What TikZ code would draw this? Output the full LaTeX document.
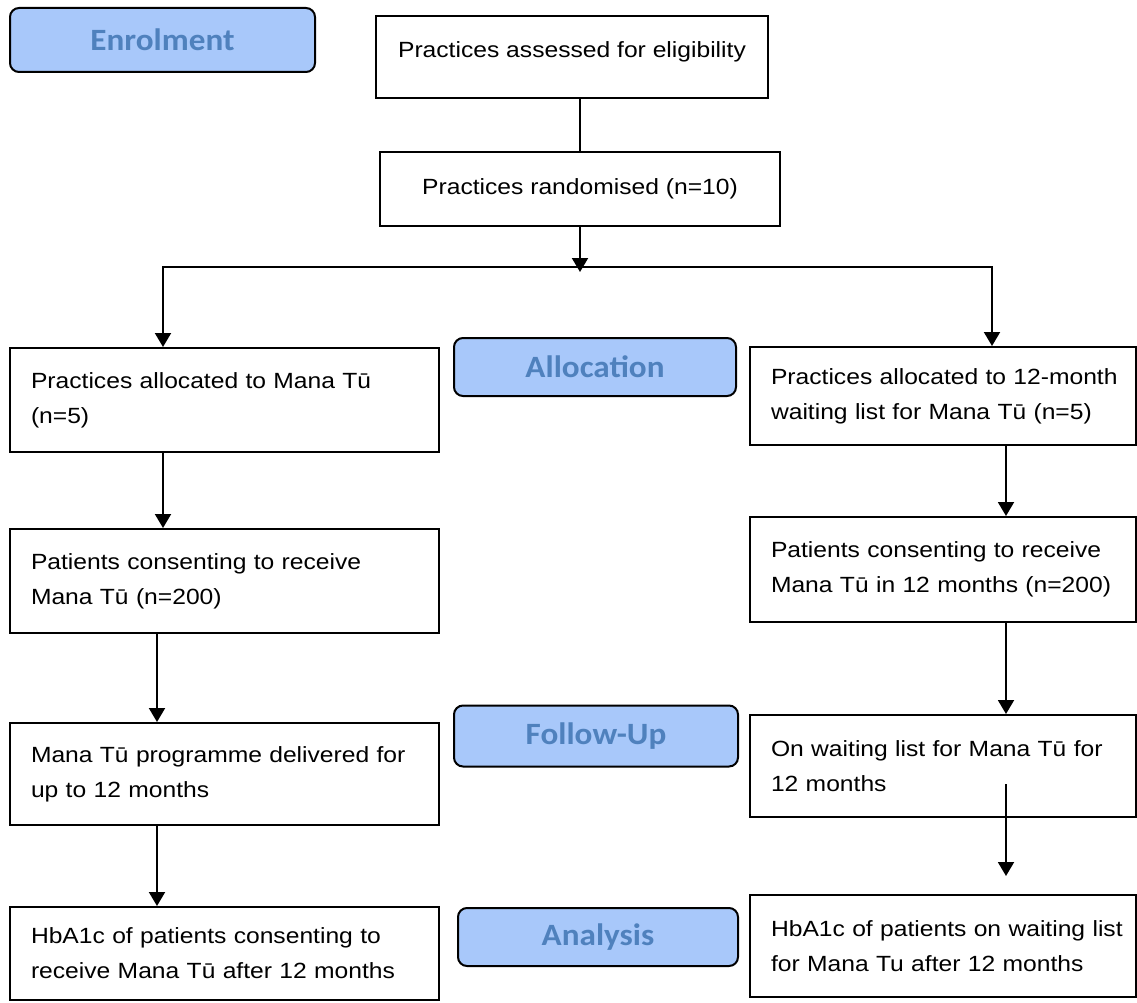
\documentclass[tikz,border=0pt]{standalone}
\usepackage{fontspec}
\usetikzlibrary{arrows.meta}
\newfontfamily\boxfont[FakeStretch=1.12]{Liberation Sans}
\newfontfamily\stagefont[FakeStretch=1.07]{Carlito}
\definecolor{stagefill}{HTML}{A8C8FA}
\definecolor{stagetext}{HTML}{4F81BD}
\begin{document}
\begin{tikzpicture}[x=1pt,y=-1pt,
  flow/.style={draw, line width=2pt, inner xsep=21pt, inner ysep=0pt, align=left,
    font=\boxfont\fontsize{22}{35}\selectfont},
  topbox/.style={draw, line width=2pt, inner sep=0pt, align=center,
    font=\boxfont\fontsize{22}{35}\selectfont},
  stage/.style={draw, line width=2pt, rounded corners=9pt, fill=stagefill, text=stagetext,
    inner sep=0pt, font=\stagefont\bfseries\fontsize{31}{36}\selectfont},
  arr/.style={line width=2pt, -{Triangle[length=14pt,width=16pt]}},
  conn/.style={line width=2pt}]
\useasboundingbox (0,0) rectangle (1137,1003);

% stage labels
\node[stage, minimum width=305pt, minimum height=64pt] (enrol) at (162.5,40) {Enrolment};
\node[stage, minimum width=282pt, minimum height=58pt] (alloc) at (595,367) {Allocation};
\node[stage, minimum width=284pt, minimum height=61pt] (follow) at (596,736) {Follow-Up};
\node[stage, minimum width=280pt, minimum height=58pt] (analysis) at (598,937) {Analysis};

% top boxes
\node[topbox, minimum width=392pt, minimum height=82pt, text height=16pt, text depth=14pt] (assessed) at (572,57) {Practices assessed for eligibility};
\node[topbox, minimum width=400pt, minimum height=74pt] (random) at (580,189) {Practices randomised (n=10)};

% left column
\node[flow, minimum width=429pt, minimum height=104pt, text width=387pt] (lb1) at (224.5,400)
  {\mbox{Practices allocated to Mana Tū}\\(n=5)};
\node[flow, minimum width=429pt, minimum height=104pt, text width=387pt] (lb2) at (224.5,581)
  {\mbox{Patients consenting to receive}\\Mana Tū (n=200)};
\node[flow, minimum width=429pt, minimum height=102pt, text width=387pt] (lb3) at (224.5,774)
  {\mbox{Mana Tū programme delivered for}\\up to 12 months};
\node[flow, minimum width=429pt, minimum height=93pt, text width=387pt] (lb4) at (224.5,953.5)
  {\mbox{HbA1c of patients consenting to}\\\mbox{receive Mana Tū after 12 months}};

% right column
\node[flow, minimum width=385.5pt, minimum height=98pt, text width=343.5pt] (rb1) at (942.75,396)
  {\mbox{Practices allocated to 12-month}\\\mbox{waiting list for Mana Tū (n=5)}};
\node[flow, minimum width=385.5pt, minimum height=105pt, text width=343.5pt] (rb2) at (942.75,569.5)
  {\mbox{Patients consenting to receive}\\\mbox{Mana Tū in 12 months (n=200)}};
\node[flow, minimum width=385.5pt, minimum height=102pt, text width=343.5pt] (rb3) at (942.75,766)
  {\mbox{On waiting list for Mana Tū for}\\12 months};
\node[flow, minimum width=385.5pt, minimum height=102pt, text width=343.5pt] (rb4) at (942.75,946)
  {\mbox{HbA1c of patients on waiting list}\\\mbox{for Mana Tu after 12 months}};

% helper coordinates
\coordinate (split) at (580,267);
\coordinate (splittip) at (580,272);
\coordinate (lx1) at (163,0);
\coordinate (lx2) at (157,0);
\coordinate (rx1) at (992,0);
\coordinate (rx2) at (1006,0);
\coordinate (rs) at (1006,784);
\coordinate (re) at (1006,876);

% connectors
\draw[conn] (random.north |- assessed.south) -- (random.north);
\draw[arr] (random.south) -- (splittip);
\draw[arr] (split) -| (lx1 |- lb1.north);
\draw[arr] (split) -| (rx1 |- rb1.north);
\draw[arr] (lx1 |- lb1.south) -- (lx1 |- lb2.north);
\draw[arr] (lx2 |- lb2.south) -- (lx2 |- lb3.north);
\draw[arr] (lx2 |- lb3.south) -- (lx2 |- lb4.north);
\draw[arr] (rx2 |- rb1.south) -- (rx2 |- rb2.north);
\draw[arr] (rx2 |- rb2.south) -- (rx2 |- rb3.north);
\draw[arr] (rs) -- (re);
\end{tikzpicture}
\end{document}
